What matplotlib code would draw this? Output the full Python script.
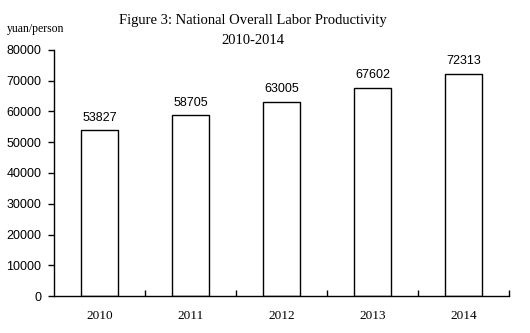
import matplotlib.pyplot as plt
from matplotlib.ticker import FixedLocator

# data
years = ["2010", "2011", "2012", "2013", "2014"]
productivity = [53827, 58705, 63005, 67602, 72313]
y_ticks = [0, 10000, 20000, 30000, 40000, 50000, 60000, 70000, 80000]

serif = "Liberation Serif"
sans = "Liberation Sans"

fig = plt.figure(figsize=(5.3, 3.33), dpi=100)
ax = fig.add_axes([0.102, 0.111, 0.858, 0.739])

x = list(range(len(years)))
ax.bar(x, productivity, width=0.4, color="white", edgecolor="black", linewidth=1.0)

# value labels above the bars
for xi, v in zip(x, productivity):
    ax.annotate(str(v), xy=(xi, v), xytext=(0, 5), textcoords="offset points",
                ha="center", va="bottom", fontsize=9, family=sans)

ax.set_xlim(-0.5, len(years) - 0.5)
ax.set_ylim(0, 80000)
ax.set_yticks(y_ticks)
ax.set_yticklabels([str(t) for t in y_ticks], family=sans, fontsize=9)

ax.set_xticks(x)
ax.set_xticklabels(years, family=serif, fontsize=9.5)
ax.tick_params(axis="x", which="major", length=0, pad=10)
ax.xaxis.set_minor_locator(FixedLocator([i + 0.5 for i in x]))
ax.tick_params(axis="x", which="minor", direction="in", length=4, width=1)
ax.tick_params(axis="y", direction="out", length=4, width=1, pad=5)

for side in ["top", "right"]:
    ax.spines[side].set_visible(False)
ax.spines["left"].set_linewidth(1)
ax.spines["bottom"].set_linewidth(1)

fig.text(0.477, 0.937, "Figure 3: National Overall Labor Productivity",
         ha="center", va="center", family=serif, fontsize=10.5)
fig.text(0.477, 0.877, "2010-2014", ha="center", va="center", family=serif, fontsize=10.5)
fig.text(0.013, 0.912, "yuan/person", ha="left", va="center", family=serif, fontsize=8.5)

fig.savefig("out.png", dpi=100)
